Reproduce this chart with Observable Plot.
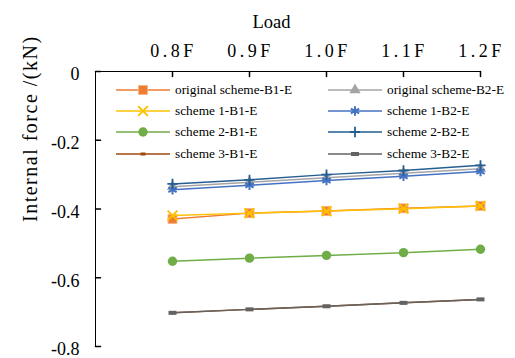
<!DOCTYPE html>
<html><head><meta charset="utf-8">
<script src="https://cdn.jsdelivr.net/npm/d3@7"></script>
<script src="https://cdn.jsdelivr.net/npm/@observablehq/plot@0.6"></script>
<style>
body{margin:0;background:#fff;}
#wrap{position:relative;width:515px;height:358px;font-family:"Liberation Serif",serif;}
#legend{position:absolute;left:0;top:0;width:515px;height:358px;pointer-events:none;}
.li{position:absolute;display:flex;align-items:center;font-size:13.3px;color:#000;white-space:nowrap;height:16px;}
.li svg{margin-right:5px;}
svg [aria-label="x-axis tick label"] text{letter-spacing:3.5px;}
</style></head><body><div id="wrap"><div id="chart"></div><div id="legend"></div></div>
<script>
const loads = [0.8, 0.9, 1.0, 1.1, 1.2];
const loadLabels = ["0.8F", "0.9F", "1.0F", "1.1F", "1.2F"];
const xDomain = [0.7, 1.2];
const yTicks = [0, -0.2, -0.4, -0.6, -0.8];
const seriesNames = ["original scheme-B1-E", "original scheme-B2-E", "scheme 1-B1-E", "scheme 1-B2-E",
  "scheme 2-B1-E", "scheme 2-B2-E", "scheme 3-B1-E", "scheme 3-B2-E"];
const seriesColors = ["#ED7D31", "#A5A5A5", "#FFC000", "#4472C4", "#70AD47", "#255E91", "#9E480E", "#636363"];
const origB1 = [-0.429, -0.412, -0.406, -0.398, -0.391];
const origB2 = [-0.335, -0.322, -0.309, -0.296, -0.283];
const s1B1 = [-0.419, -0.412, -0.406, -0.399, -0.391];
const s1B2 = [-0.344, -0.331, -0.317, -0.305, -0.291];
const s2B1 = [-0.552, -0.543, -0.535, -0.527, -0.517];
const s2B2 = [-0.327, -0.315, -0.300, -0.288, -0.273];
const s3B1 = [-0.702, -0.692, -0.683, -0.673, -0.663];
const s3B2 = [-0.702, -0.692, -0.683, -0.673, -0.663];
const seriesValues = [origB1, origB2, s1B1, s1B2, s2B1, s2B2, s3B1, s3B2];
const xTitle = "Load";
const yTitle = "Internal force /(kN)";

const FONT = "Liberation Serif";

function rectSymbol(w, h) {
  return {draw(ctx) { ctx.moveTo(-w/2, -h/2); ctx.lineTo(w/2, -h/2); ctx.lineTo(w/2, h/2); ctx.lineTo(-w/2, h/2); ctx.closePath(); }};
}
const markers = [
  {symbol: d3.symbolSquare, r: 5, fill: "#ED7D31", stroke: "#F4B183", sw: 1},
  {symbol: d3.symbolTriangle, r: 4.2, fill: "#A5A5A5", stroke: "none", sw: 0},
  {symbol: d3.symbolTimes, r: 4.5, fill: "none", stroke: "#FFC000", sw: 2},
  {symbol: d3.symbolAsterisk, r: 4.5, fill: "none", stroke: "#4472C4", sw: 2},
  {symbol: d3.symbolCircle, r: 4.7, fill: "#70AD47", stroke: "none", sw: 0},
  {symbol: d3.symbolPlus, r: 3.4, fill: "none", stroke: "#255E91", sw: 1.8},
  {symbol: rectSymbol(5, 3), r: 3, fill: "#9E480E", stroke: "none", sw: 0},
  {symbol: rectSymbol(8, 4), r: 3, fill: "#636363", stroke: "none", sw: 0}
];

const data = [];
seriesNames.forEach((name, i) => loads.forEach((l, j) => data.push({series: name, load: l, value: seriesValues[i][j]})));

const tickShape = {draw(ctx, l) { ctx.moveTo(0, 0); ctx.lineTo(0, -l); }};

const marks = [
  Plot.ruleY([0], {stroke: "#000", strokeWidth: 1}),
  Plot.ruleX([xDomain[0]], {stroke: "#000", strokeWidth: 1}),
  Plot.vector(loads, {x: d => d, y: 0, length: 5, rotate: 180, anchor: "start", shape: tickShape, stroke: "#000"}),
  Plot.vector(yTicks, {x: xDomain[0], y: d => d, length: 5, rotate: 90, anchor: "start", shape: tickShape, stroke: "#000"}),
  Plot.axisX(loads, {anchor: "top", tickSize: 0, tickPadding: 15, dx: 1, label: null, fontSize: 18, fontFamily: FONT, fill: "#000",
    tickFormat: d => loadLabels[loads.indexOf(d)]}),
  Plot.axisY(yTicks, {anchor: "left", tickSize: 0, tickPadding: 16, dy: 3, label: null, fontSize: 18, fontFamily: FONT, fill: "#000",
    tickFormat: d => String(d)}),
  Plot.text([xTitle], {frameAnchor: "top", dy: -57, dx: -16.5, fontSize: 18.5, fontFamily: FONT, fill: "#000"}),
  Plot.text([yTitle], {frameAnchor: "left", dx: -65, dy: 13, rotate: -90, fontSize: 20, fontFamily: FONT, fill: "#000"})
];
seriesNames.forEach((name, i) => {
  const sub = data.filter(d => d.series === name);
  const m = markers[i];
  marks.push(Plot.line(sub, {x: "load", y: "value", stroke: seriesColors[i], strokeWidth: 1.5}));
  marks.push(Plot.dot(sub, {x: "load", y: "value", symbol: m.symbol, r: m.r, fill: m.fill, stroke: m.stroke, strokeWidth: m.sw}));
});

const chart = Plot.plot({
  width: 515, height: 358,
  marginLeft: 95, marginRight: 35, marginTop: 71, marginBottom: 12,
  style: {fontFamily: FONT, fontSize: "16px", background: "#fff", color: "#000"},
  x: {domain: xDomain},
  y: {domain: [-0.8, 0]},
  marks
});
d3.select(chart).selectAll("text").filter(function() { return this.textContent === yTitle; })
  .style("letter-spacing", "1.5px");
document.getElementById("chart").appendChild(chart);

const legend = document.getElementById("legend");
const rowsY = [90, 111, 132, 154];
const colsX = [116, 328];
seriesNames.forEach((name, i) => {
  const col = i % 2, row = Math.floor(i / 2);
  const div = document.createElement("div");
  div.className = "li";
  div.style.left = colsX[col] + "px";
  div.style.top = (rowsY[row] - 8) + "px";
  const m = markers[i];
  const svg = d3.create("svg").attr("width", 54).attr("height", 16);
  svg.append("line").attr("x1", 0).attr("x2", 54).attr("y1", 8).attr("y2", 8).attr("stroke", seriesColors[i]).attr("stroke-width", 1.5);
  svg.append("path").attr("transform", "translate(27,8)")
    .attr("d", d3.symbol(m.symbol, Math.PI * m.r * m.r)())
    .attr("fill", m.fill).attr("stroke", m.stroke).attr("stroke-width", m.sw);
  div.appendChild(svg.node());
  const span = document.createElement("span");
  span.textContent = name;
  div.appendChild(span);
  legend.appendChild(div);
});
</script></body></html>
